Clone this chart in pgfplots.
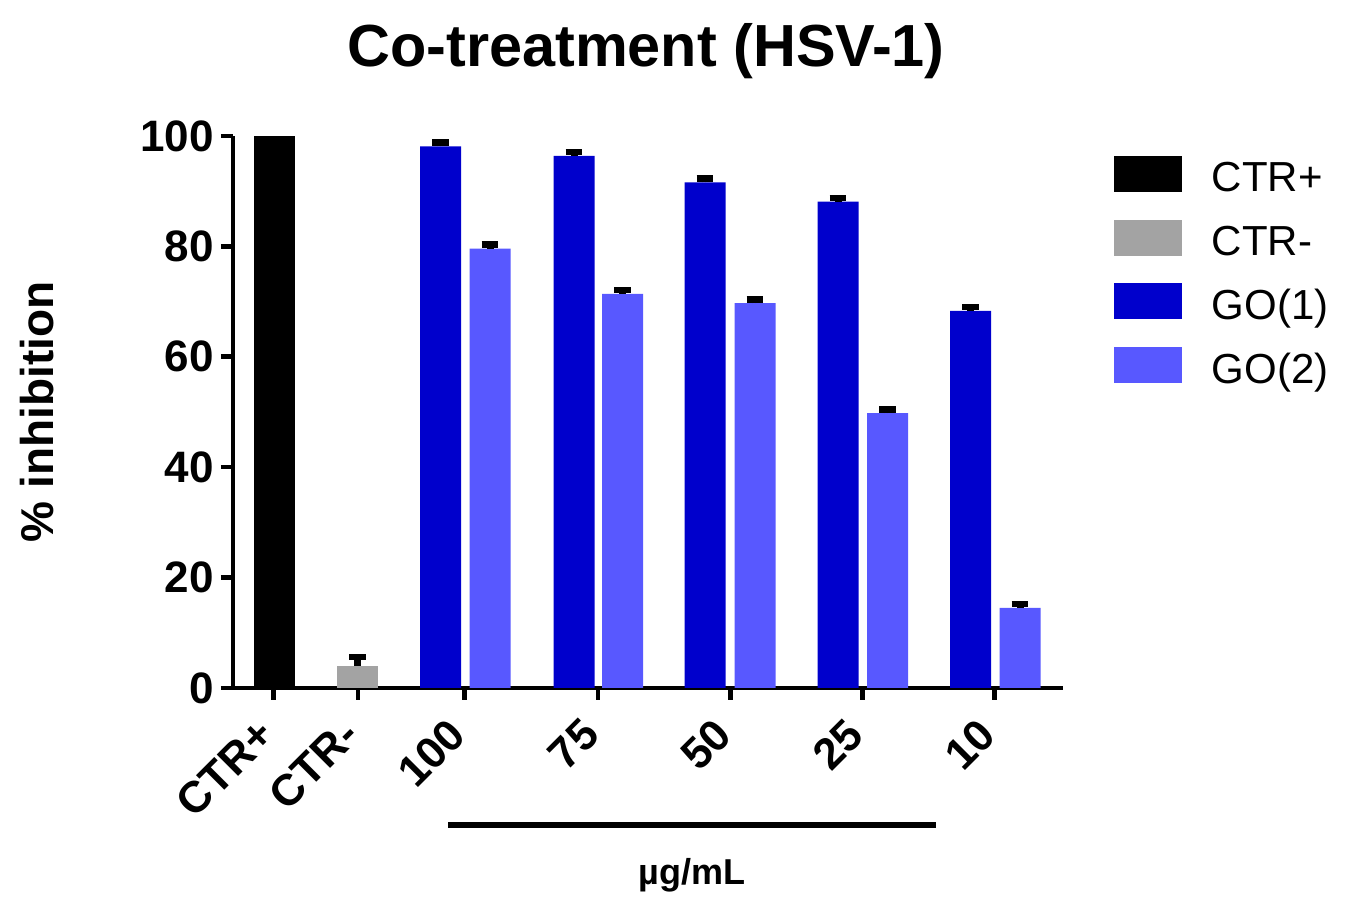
\documentclass[border=0pt]{standalone}
\usepackage{fontspec}
\setmainfont{Liberation Sans}
\usepackage{pgfplots}
\pgfplotsset{compat=1.18}
\definecolor{dblue}{RGB}{0,0,204}
\definecolor{lblue}{RGB}{88,88,255}
\definecolor{cgrey}{RGB}{163,163,163}
\pgfplotsset{
  boxleg/.style={legend image code/.code={\fill[##1] (0pt,0pt) rectangle (34pt,18pt); \path[draw=none,fill=none] (0pt,0pt) -- (49pt,0pt);}},
  myerr/.style={error bars/.cd, y dir=plus, y explicit,
     error bar style={line width=3.5pt, black},
     error mark options={line width=3.3pt, mark size=4.2pt, black, rotate=90}},
}
\begin{document}
\begin{tikzpicture}
\path[use as bounding box] (0,0) rectangle (675pt,454pt);
\begin{axis}[
  scale only axis, width=415pt, height=276pt,
  at={(116.5pt,110pt)}, anchor=south west,
  xmin=233, xmax=1063, ymin=0, ymax=100,
  axis x line=bottom, axis y line=left,
  axis line style={line width=2.3pt, -, black},
  tick align=outside, major tick length=6pt,
  tick style={line width=2.3pt, black},
  ytick={0,20,40,60,80,100},
  xtick={273.5,358,464.5,598,730.5,862.5,994.5},
  xticklabels={CTR+,CTR-,100,75,50,25,10},
  /pgf/number format/assume math mode=true,
  yticklabel style={font=\fontsize{22}{26}\bfseries\selectfont},
  xticklabel style={font=\fontsize{22}{26}\bfseries\selectfont, anchor=east, inner sep=2pt, yshift=-12pt, xshift=-2pt, rotate=45},
  title={Co-treatment (HSV-1)},
  title style={at={(axis description cs:0.4976,1.105)}, anchor=base, font=\fontsize{29.7}{34}\bfseries\selectfont},
  ylabel={\% inhibition},
  ylabel style={at={(axis description cs:-0.236,0.5)}, anchor=center, font=\fontsize{23}{27}\bfseries\selectfont},
  legend style={at={(axis description cs:1.0614,0.9638)}, anchor=north west, draw=none, fill=none,
     inner sep=0pt, outer sep=0pt, row sep=8.85pt, font=\fontsize{21}{25}\selectfont,
     cells={anchor=base west},
     nodes={inner sep=0pt, text height=15pt, text depth=5pt}},
  clip=false,
]
\addplot[ybar, bar width=41, bar shift=0pt, fill=black, draw=none, boxleg]
  coordinates {(274.5,100)};
\addlegendentry{CTR+}
\addplot[ybar, bar width=41, bar shift=0pt, fill=cgrey, draw=none, boxleg, myerr]
  coordinates {(357.5,4.0) +- (0,1.6)};
\addlegendentry{CTR-}
\addplot[ybar, bar width=41, bar shift=0pt, fill=dblue, draw=none, boxleg, myerr]
  coordinates {(440.5,98.1) +- (0,0.7) (574,96.4) +- (0,0.7) (705,91.6) +- (0,0.7) (838,88.1) +- (0,0.7) (970.5,68.3) +- (0,0.7)};
\addlegendentry{GO(1)}
\addplot[ybar, bar width=41, bar shift=0pt, fill=lblue, draw=none, boxleg, myerr]
  coordinates {(490,79.6) +- (0,0.7) (622.5,71.4) +- (0,0.7) (755,69.7) +- (0,0.7) (887.5,49.8) +- (0,0.7) (1020,14.5) +- (0,0.7)};
\addlegendentry{GO(2)}
\end{axis}
\draw[line width=3.3pt] (224pt,41.5pt) -- (468pt,41.5pt);
\node[anchor=base, font=\fontsize{18}{21}\bfseries\selectfont, inner sep=0pt] at (346pt,11.5pt) {µg/mL};
\end{tikzpicture}
\end{document}
